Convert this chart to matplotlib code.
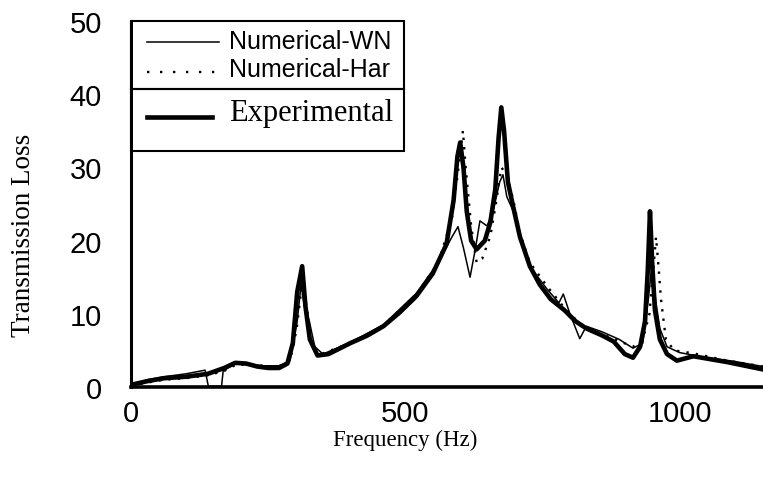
import matplotlib
matplotlib.use('Agg')
import matplotlib.pyplot as plt
from matplotlib.patches import Rectangle
from matplotlib.lines import Line2D

# values (Hz, transmission loss)
exp_freq = [0, 30, 60, 100, 140, 170, 190, 210, 230, 250, 270, 285, 295, 303, 312,
            318, 326, 340, 360, 400, 430, 460, 490, 520, 550, 575, 588, 595, 600,
            606, 612, 620, 630, 645, 655, 664, 670, 675, 680, 687, 697, 709, 727,
            745, 765, 790, 810, 830, 860, 880, 900, 915, 928, 937, 942, 946, 950,
            955, 964, 977, 995, 1025, 1087, 1152]
exp_tl = [0.3, 0.8, 1.2, 1.4, 1.8, 2.6, 3.3, 3.2, 2.8, 2.6, 2.6, 3.2, 6.0, 13.0, 16.5,
          11.0, 6.5, 4.3, 4.5, 6.0, 7.0, 8.3, 10.2, 12.4, 15.5, 19.5, 25.5, 31.5, 33.4,
          30.0, 24.0, 20.0, 18.8, 20.0, 22.5, 27.0, 34.0, 38.2, 35.0, 28.0, 24.5, 20.5, 16.5,
          14.0, 12.0, 10.5, 9.0, 8.0, 7.0, 6.2, 4.5, 4.0, 5.5, 9.0, 16.0, 24.0, 17.0,
          10.5, 6.5, 4.5, 3.6, 4.2, 3.4, 2.4]

wn_freq = [0, 30, 60, 100, 135, 141, 165, 168, 190, 210, 240, 270, 290, 303, 310,
           316, 325, 335, 350, 400, 460, 520, 560, 585, 596, 606, 618, 628, 636,
           649, 660, 672, 678, 685, 697, 709, 727, 758, 780, 788, 800, 818, 830,
           860, 890, 915, 933, 943, 950, 956, 964, 977, 1000, 1050, 1100, 1152]
wn_tl = [0.3, 1.0, 1.4, 1.8, 2.3, 0.1, 0.1, 2.2, 3.2, 3.1, 2.9, 2.9, 3.6, 9.0, 14.0,
         11.0, 9.0, 5.5, 4.5, 6.1, 8.5, 12.8, 17.0, 20.5, 21.9, 19.0, 15.0, 19.0, 22.7,
         22.0, 24.0, 28.0, 29.0, 26.0, 24.0, 20.5, 16.5, 13.4, 11.5, 12.7, 10.0, 6.6, 8.3,
         7.5, 6.5, 5.3, 6.0, 12.0, 17.0, 12.0, 8.0, 5.5, 4.7, 4.0, 3.5, 2.8]

har_freq = [0, 30, 60, 100, 140, 170, 190, 220, 250, 275, 290, 302, 310, 318, 326,
            335, 350, 400, 460, 520, 560, 585, 597, 605, 610, 620, 630, 640, 655,
            665, 675, 685, 697, 709, 727, 758, 790, 820, 855, 886, 915, 933, 945,
            952, 957, 962, 966, 975, 990, 1025, 1087, 1152]
har_tl = [0.2, 0.6, 1.0, 1.2, 1.6, 2.2, 3.0, 3.1, 2.8, 2.9, 3.5, 8.0, 13.0, 12.0, 8.0,
          5.0, 4.6, 6.0, 8.4, 12.6, 17.0, 23.0, 30.0, 35.0, 30.0, 22.0, 17.0, 17.5, 20.6,
          25.0, 30.0, 29.0, 25.5, 21.0, 17.0, 13.8, 10.8, 8.5, 7.3, 6.4, 5.5, 6.5, 10.0,
          16.0, 20.5, 16.0, 12.0, 6.5, 5.0, 4.6, 3.6, 2.8]

x_ticks = [0, 500, 1000]
y_ticks = [0, 10, 20, 30, 40, 50]

sans = 'Liberation Sans'
serif = 'Liberation Serif'
dotted = (0, (1, 3))

fig = plt.figure(figsize=(7.63, 4.85), dpi=100)
ax = fig.add_axes([0.1717, 0.2, 0.8283, 0.7546])

ax.plot(wn_freq, wn_tl, color='black', lw=1.1)
ax.plot(har_freq, har_tl, color='black', lw=1.7, linestyle=dotted)
ax.plot(exp_freq, exp_tl, color='black', lw=3.3)

ax.set_xlim(0, 1152)
ax.set_ylim(0, 50)
ax.set_xticks(x_ticks)
ax.set_yticks(y_ticks)
ax.tick_params(length=0, labelsize=21)
ax.tick_params(axis='x', pad=9)
ax.tick_params(axis='y', pad=21)
for lab in ax.get_xticklabels() + ax.get_yticklabels():
    lab.set_family(sans)

for side in ['top', 'right']:
    ax.spines[side].set_visible(False)
ax.spines['left'].set_linewidth(2.2)
ax.spines['bottom'].set_linewidth(2.6)

ax.set_xlabel('Frequency (Hz)', family=serif, fontsize=16.5)
ax.xaxis.set_label_coords(0.4335, -0.115)
ax.set_ylabel('Transmission Loss', family=serif, fontsize=19.5)
ax.yaxis.set_label_coords(-0.15, 0.418)

# two-part legend box
ax.add_patch(Rectangle((0.003, 0.648), 0.426, 0.349, transform=ax.transAxes,
                       fc='white', ec='none', zorder=4))
ax.add_patch(Rectangle((0, 0.814), 0.432, 0.186, transform=ax.transAxes,
                       fill=False, lw=1.5, ec='black', clip_on=False, zorder=5))
ax.add_patch(Rectangle((0, 0.645), 0.432, 0.169, transform=ax.transAxes,
                       fill=False, lw=1.5, ec='black', clip_on=False, zorder=5))

ax.add_line(Line2D([0.025, 0.140], [0.943, 0.943], transform=ax.transAxes,
                   color='black', lw=1.1, zorder=6))
ax.add_line(Line2D([0.025, 0.140], [0.861, 0.861], transform=ax.transAxes,
                   color='black', lw=1.7, linestyle=(0, (1, 4.5)), zorder=6))
ax.add_line(Line2D([0.025, 0.128], [0.738, 0.738], transform=ax.transAxes,
                   color='black', lw=3.3, zorder=6))
ax.text(0.155, 0.946, 'Numerical-WN', transform=ax.transAxes, family=sans,
        fontsize=18, va='center', ha='left', zorder=6)
ax.text(0.155, 0.870, 'Numerical-Har', transform=ax.transAxes, family=sans,
        fontsize=18, va='center', ha='left', zorder=6)
ax.text(0.155, 0.749, 'Experimental', transform=ax.transAxes, family=serif,
        fontsize=22, va='center', ha='left', zorder=6)

plt.savefig('out.png', dpi=100)
